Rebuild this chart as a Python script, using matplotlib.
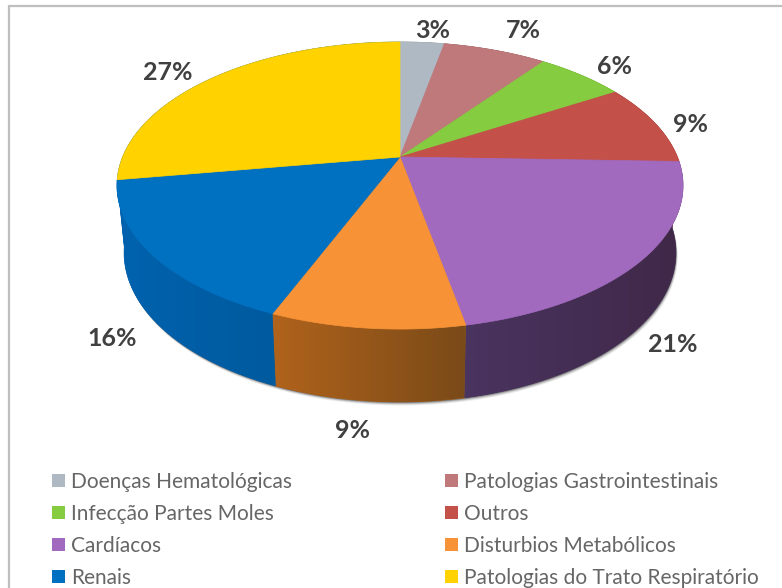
import numpy as np
import matplotlib
matplotlib.use('Agg')
import matplotlib.pyplot as plt
from matplotlib.patches import Patch, Polygon

# slices, clockwise from the top
categories = ['Doenças Hematológicas', 'Patologias Gastrointestinais', 'Infecção Partes Moles', 'Outros',
              'Cardíacos', 'Disturbios Metabólicos', 'Renais', 'Patologias do Trato Respiratório']
values = [3, 7, 6, 9, 21, 9, 16, 27]
colors = ['#AEB9C3', '#C0797B', '#85CC40', '#C4504A', '#A26ABE', '#F79336', '#0070C0', '#FFD200']
# side colour of each slice, left and right end of the gradient
# yellow side only peeks out at the far left, the reference shows blue there
side_left = ['#7F8890', '#8A5658', '#5F9430', '#8E3A36', '#4A3460', '#B0631C', '#0062AE', '#0062AE']
side_right = ['#7F8890', '#8A5658', '#5F9430', '#8E3A36', '#402848', '#7A4A18', '#005A9E', '#0062AE']
label_x = [433, 523, 614, 690, 673, 352, 112, 168]
label_y = [31, 31, 66, 124, 344, 430, 338, 72]

# perspective of the disc, in pixels
cx, cy = 400, 157
persp = 0.1986
a, b = 277.4, 137.9


def project(theta):
    w = 1 + persp * np.cos(theta)
    return cx + a * np.sin(theta) / w, cy - b * np.cos(theta) / w


def project_bottom(theta):
    x, y = project(theta)
    return cx + 0.975 * (x - cx), cy + 66 + 1.04 * (y - cy)


fig = plt.figure(figsize=(7.82, 5.88), dpi=100)
ax = fig.add_axes([0, 0, 1, 1])
ax.set_xlim(0, 782)
ax.set_ylim(588, 0)
ax.axis('off')

# frame, only top and left show
ax.plot([8.5, 8.5, 782], [588, 6, 6], color='#BFBFBF', lw=1.6, solid_joinstyle='miter')

edges = np.concatenate([[0], np.cumsum(values)]) / sum(values) * 2 * np.pi
all_t = np.linspace(0, 2 * np.pi, 400)

# soft shadow under the disc
for off, alpha in [(3.5, 0.08), (2.5, 0.14), (1.5, 0.22), (0.7, 0.3)]:
    bx, by = project_bottom(all_t)
    ax.fill(bx + off * 0.5, by + off, color='black', alpha=alpha, lw=0, zorder=1)

# sides first, tops go over them
for i in range(len(values)):
    t = np.linspace(edges[i], edges[i + 1], 80)
    x1, y1 = project(t)
    x2, y2 = project_bottom(t)
    xs = np.concatenate([x1, x2[::-1]])
    ys = np.concatenate([y1, y2[::-1]])
    poly = Polygon(np.column_stack([xs, ys]), closed=True, fc=side_left[i], ec=side_left[i], lw=0.4, zorder=2)
    ax.add_patch(poly)
    c1 = np.array(matplotlib.colors.to_rgb(side_left[i]))
    c2 = np.array(matplotlib.colors.to_rgb(side_right[i]))
    grad = np.linspace(0, 1, 64)[None, :, None] * (c2 - c1) + c1
    im = ax.imshow(grad, extent=[xs.min(), xs.max(), ys.max(), ys.min()], aspect='auto', zorder=2.1)
    im.set_clip_path(poly)

ax.set_xlim(0, 782)
ax.set_ylim(588, 0)

for i in range(len(values)):
    t = np.linspace(edges[i], edges[i + 1], 80)
    x1, y1 = project(t)
    xs = np.concatenate([[cx], x1])
    ys = np.concatenate([[cy], y1])
    ax.fill(xs, ys, fc=colors[i], ec=colors[i], lw=0.5, zorder=3)

for i, v in enumerate(values):
    ax.text(label_x[i], label_y[i], '%d%%' % v, ha='center', va='center', fontsize=18,
            family='Lato', fontweight='bold', color='#404040', zorder=5)

handles = [Patch(fc=c, ec='none') for c in colors]
order = [0, 2, 4, 6, 1, 3, 5, 7]
ax.legend([handles[i] for i in order], [categories[i] for i in order], ncol=2, frameon=False,
          loc='upper left', bbox_to_anchor=(52 / 782, 1 - 472 / 588), borderaxespad=0, borderpad=0,
          prop={'family': 'Lato', 'size': 15}, labelcolor='#666666', handlelength=0.62, handleheight=0.62,
          handletextpad=0.29, labelspacing=0.57, columnspacing=7.35)

fig.savefig('out.png', dpi=100)
